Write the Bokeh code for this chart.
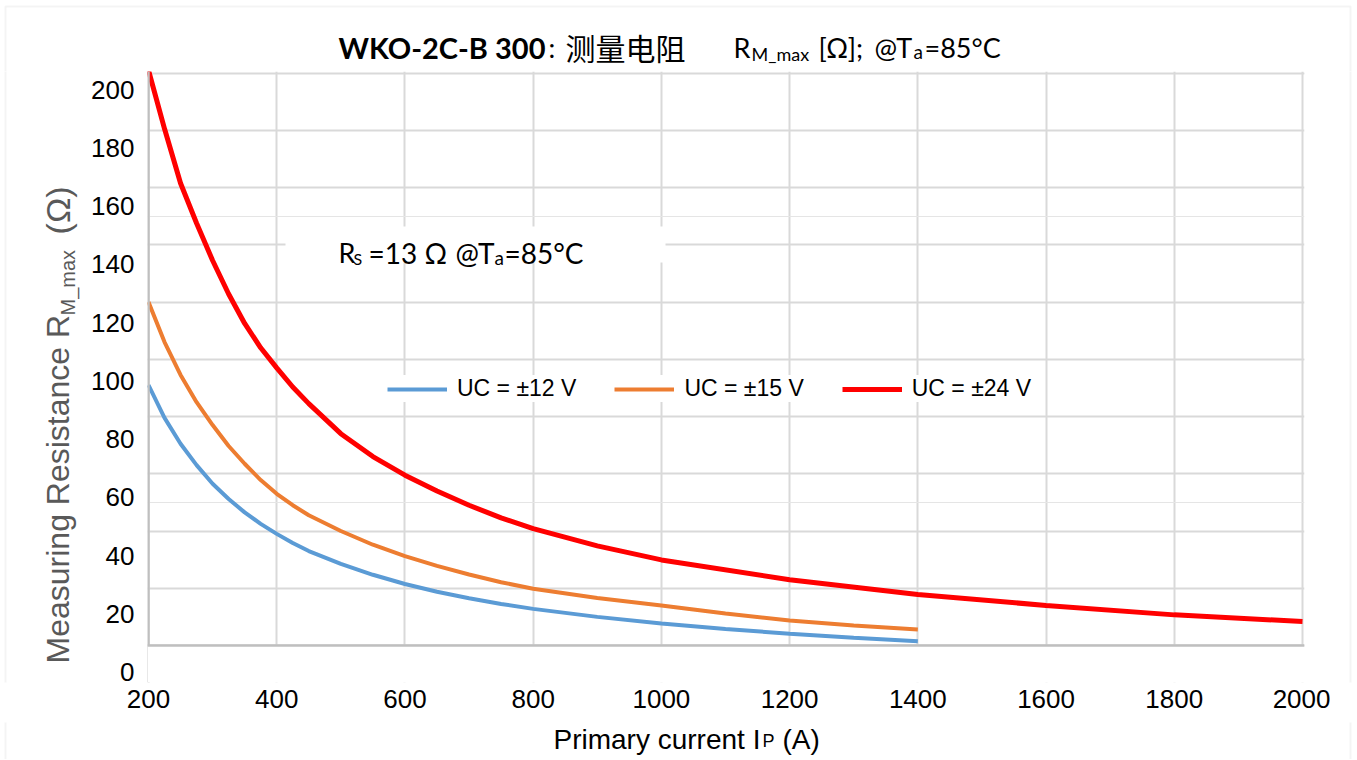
import numpy as np
from bokeh.plotting import figure
from bokeh.layouts import column, row
from bokeh.models import (Range1d, LinearAxis, FixedTicker, Grid, Span, BoxAnnotation,
                          Label, Legend, LegendItem)
from bokeh.embed import file_html
from bokeh.resources import INLINE

# ---------------- data ----------------
current_12v = [200, 225, 250, 275, 300, 325, 350, 375, 400, 425, 450, 500, 550, 600, 650, 700, 750,
               800, 900, 1000, 1100, 1200, 1300, 1400]
r_12v = [91, 79.5, 70.5, 63, 56.5, 51.2, 46.5, 42.5, 39, 35.8, 33, 28.5, 24.7, 21.5, 18.8, 16.5, 14.5,
         12.8, 10.0, 7.7, 5.8, 4.1, 2.7, 1.5]

current_15v = [200, 225, 250, 275, 300, 325, 350, 375, 400, 425, 450, 500, 550, 600, 650, 700, 750,
               800, 900, 1000, 1100, 1200, 1300, 1400]
r_15v = [120, 106, 94.5, 85, 77, 69.7, 63.5, 57.8, 53, 49, 45.5, 40, 35.2, 31.2, 27.8, 24.8, 22.1,
         19.8, 16.6, 14.0, 11.2, 8.7, 7.0, 5.6]

current_24v = [200, 225, 250, 275, 300, 325, 350, 375, 400, 425, 450, 500, 550, 600, 650, 700, 750,
               800, 900, 1000, 1200, 1400, 1600, 1800, 2000]
r_24v = [201, 180.5, 161.5, 147.5, 134.5, 122.8, 112.5, 104, 97, 90.3, 84.5, 74, 66, 59.5, 54, 49, 44.6,
         40.8, 34.8, 29.9, 23.0, 17.8, 14.0, 10.7, 8.4]

series_names = ["UC = ±12 V", "UC = ±15 V", "UC = ±24 V"]
series_colors = ["#5B9BD5", "#ED7D31", "#FF0000"]

x_ticks = [200, 400, 600, 800, 1000, 1200, 1400, 1600, 1800, 2000]
y_ticks = [0, 20, 40, 60, 80, 100, 120, 140, 160, 180, 200]

# ---------------- geometry (page pixels) ----------------
W, H = 1356, 759
TOP = 71            # bottom of title strip / top of plot frame
YTW = 88            # width of y-title strip
MR = 1330           # right edge of the main figure
MB = 722            # bottom of middle row
FL, FR, FT, FB = 147, 1304, 71, 682          # frame edges on the page
X0_PX, X1_PX = 148, 1302                     # x=200 / x=2000
G0_PX, G200_PX = 645, 72.5                   # grid 0 / 200
L0_PX, L200_PX = 671.7, 89.0                 # tick label 0 / 200

sx = (X1_PX - X0_PX) / 1800.0
x_start = 200 - (X0_PX - FL) / sx
x_end = 2000 + (FR - X1_PX) / sx
sg = (G0_PX - G200_PX) / 200.0
y_end = 200 + (G200_PX - FT) / sg
y_start = -(FB - G0_PX) / sg
sl = (L0_PX - L200_PX) / 200.0
l_end = 200 + (L200_PX - FT) / sl
l_start = -(FB - L0_PX) / sl


def dx(px):
    return x_start + (px - FL) / sx


def dy(py):
    return y_end - (py - FT) / sg


BORDER = dict(left=5, right=1350, top=6, bottom=2000)


def text_fig(x0, x1, y0, y1):
    f = figure(width=x1 - x0, height=y1 - y0, output_backend="svg", toolbar_location=None,
               x_range=Range1d(x0, x1), y_range=Range1d(y1, y0),
               x_axis_location=None, y_axis_location=None,
               min_border=0, min_border_left=0, min_border_right=0,
               min_border_top=0, min_border_bottom=0)
    f.outline_line_color = None
    f.background_fill_color = "white"
    f.border_fill_color = "white"
    f.grid.visible = False
    for g in list(f.renderers) + list(f.center):
        if isinstance(g, Grid):
            g.visible = False
    f.add_layout(BoxAnnotation(fill_alpha=0, line_color="#d9d9d9", line_width=2, **BORDER))
    return f


def lab(f, text, x, y, size, font="Liberation Sans", style="normal", color="black",
        angle=0.0, align="left"):
    f.add_layout(Label(x=x, y=y, text=text, text_font=font, text_font_size=f"{size}px",
                       text_font_style=style, text_color=color, text_align=align,
                       text_baseline="middle", angle=angle))


# ---------------- main plot ----------------
p = figure(width=MR - YTW, height=MB - TOP, output_backend="svg", toolbar_location=None,
           x_range=Range1d(x_start, x_end), y_range=Range1d(y_start, y_end),
           y_axis_location=None,
           min_border=0, min_border_left=FL - YTW, min_border_right=MR - FR,
           min_border_top=FT - TOP, min_border_bottom=MB - FB)
p.outline_line_color = None
p.background_fill_color = "white"
p.border_fill_color = "white"

xa = p.xaxis[0]
xa.ticker = FixedTicker(ticks=x_ticks)
xa.axis_line_color = None
xa.major_tick_out = 0
xa.major_tick_in = 0
xa.minor_tick_out = 0
xa.minor_tick_in = 0
xa.major_label_standoff = 7
xa.major_label_text_font = "Liberation Sans"
xa.major_label_text_font_size = "26px"
xa.major_label_text_color = "black"

p.xgrid.ticker = FixedTicker(ticks=x_ticks)
p.xgrid.grid_line_color = "#d9d9d9"
p.xgrid.grid_line_width = 2

p.add_layout(Grid(dimension=1, ticker=FixedTicker(ticks=y_ticks),
                  grid_line_color="#d9d9d9", grid_line_width=2))

p.extra_y_ranges = {"lab": Range1d(l_start, l_end)}
ya = LinearAxis(y_range_name="lab", ticker=FixedTicker(ticks=y_ticks))
ya.axis_line_color = None
ya.major_tick_out = 0
ya.major_tick_in = 0
ya.minor_tick_out = 0
ya.minor_tick_in = 0
ya.major_label_standoff = 13
ya.major_label_text_font = "Liberation Sans"
ya.major_label_text_font_size = "26px"
ya.major_label_text_color = "black"
p.add_layout(ya, "left")

p.add_layout(Span(location=200, dimension="height", line_color="#bfbfbf", line_width=2.5, level="guide"))
p.add_layout(BoxAnnotation(left=x_start, right=x_end, bottom=y_start, top=0,
                           fill_color="white", fill_alpha=1, line_color=None, level="annotation"))
p.add_layout(Span(location=0, dimension="width", line_color="#bfbfbf", line_width=2.5, level="overlay"))

# white box behind the R_S note
p.add_layout(BoxAnnotation(left=dx(285), right=dx(665), top=dy(226), bottom=dy(262),
                           fill_color="white", fill_alpha=1, line_color=None, level="annotation"))

r1 = p.line(current_12v, r_12v, line_color=series_colors[0], line_width=4)
r2 = p.line(current_15v, r_15v, line_color=series_colors[1], line_width=4)
r3 = p.line(current_24v, r_24v, line_color=series_colors[2], line_width=5)

legend = Legend(items=[LegendItem(label=series_names[0], renderers=[r1]),
                       LegendItem(label=series_names[1], renderers=[r2]),
                       LegendItem(label=series_names[2], renderers=[r3])],
                orientation="horizontal", location=(387 - FL, FB - 402),
                background_fill_color="white", background_fill_alpha=1,
                border_line_color=None, padding=6, margin=0,
                glyph_width=60, label_standoff=10, spacing=38,
                label_text_font="Liberation Sans", label_text_font_size="23px",
                label_text_color="black")
p.add_layout(legend, "center")


def plab(text, px, py, size, font="Lato"):
    p.add_layout(Label(x=dx(px), y=dy(py), text=text, text_font=font, text_font_size=f"{size}px",
                       text_color="black", text_align="left", text_baseline="middle"))


# note (caps centred near y=252)
plab("R", 338, 252, 27)
plab("S", 353, 258, 16)
plab("=13 Ω", 368, 252, 28)
plab("@T", 455, 252, 28)
plab("a", 494, 257, 19)
plab("=85°C", 504, 252, 28)

# ---------------- title strip ----------------
tf = text_fig(0, W, 0, TOP)
lab(tf, "WKO-2C-B 300", 338, 47, 29, font="Lato", style="bold")
lab(tf, ":", 548, 47, 27, font="Lato")
lab(tf, "测量电阻", 565, 46, 30, font="Noto Sans CJK SC")
lab(tf, "R", 733, 47, 27, font="Lato")
lab(tf, "M_max", 751, 53, 18, font="Lato")
lab(tf, "[Ω];", 818, 47, 27, font="Lato")
lab(tf, "@T", 874, 47, 27, font="Lato")
lab(tf, "a", 913, 51, 19, font="Lato")
lab(tf, "=85°C", 924, 47, 27, font="Lato")

# ---------------- y-title strip (rotated, centred pieces) ----------------
yf = text_fig(0, YTW, TOP, MB)
ANG = np.pi / 2
lab(yf, "Measuring Resistance R", 57, 516, 32, color="#595959", angle=ANG, align="center")
lab(yf, "M_max", 67, 296, 20, color="#595959", angle=ANG, align="center")
lab(yf, "(Ω)", 57, 219, 34, color="#595959", angle=ANG, align="center")

# ---------------- right strip ----------------
rf = text_fig(MR, W, TOP, MB)

# ---------------- x-title strip ----------------
xf = text_fig(0, W, MB, H)
lab(xf, "Primary current I", 553, 739, 28)
lab(xf, "P", 762, 740, 18)
lab(xf, "(A)", 782, 739, 28)

layout = column(tf, row(yf, p, rf), xf)

out = file_html(layout, INLINE, title="WKO-2C-B 300")
open("out.html", "w").write(out)
